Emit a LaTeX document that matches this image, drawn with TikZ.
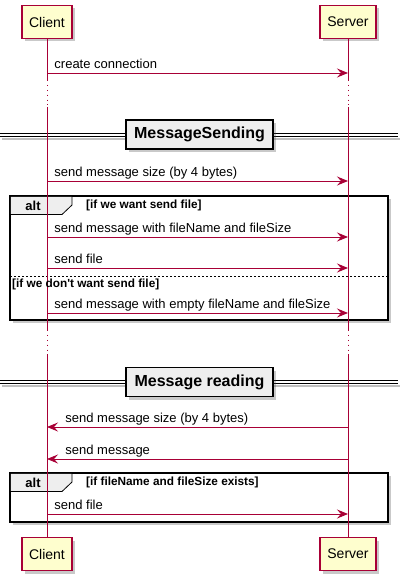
\documentclass[tikz,border=0pt]{standalone}
\usepackage{fontspec}
\setmainfont{Liberation Sans}
\usetikzlibrary{arrows.meta,shadows}

\definecolor{umlred}{HTML}{A80036}
\definecolor{umlyellow}{HTML}{FEFECE}
\definecolor{umlgray}{HTML}{EEEEEE}

\tikzset{
  shade box/.style={drop shadow={shadow xshift=3pt,shadow yshift=-3pt,opacity=.3,fill=black!70}},
  participant/.style={draw=umlred, fill=umlyellow, line width=1.2pt, minimum height=33pt,
    inner sep=0pt, font=\fontsize{14}{16}\selectfont, shade box},
  life/.style={umlred, line width=.9pt},
  delay/.style={dash pattern=on .9pt off 4pt},
  msg/.style={umlred, line width=.9pt, -{Stealth[length=11pt,width=9pt,inset=4pt]}},
  lbl/.style={text=black, inner sep=0pt, anchor=base west, font=\fontsize{13}{15}\selectfont},
  divider/.style={draw, fill=umlgray, line width=1.2pt, minimum width=147pt, minimum height=29pt,
    font=\bfseries\fontsize{16}{18}\selectfont, shade box},
  divline/.style={line width=1pt},
  fragment/.style={draw, fill=white, line width=1.5pt, shade box},
  tab/.style={line width=.8pt},
  alttag/.style={inner sep=0pt, font=\bfseries\fontsize{13}{15}\selectfont},
  guard/.style={inner sep=0pt, anchor=west, font=\bfseries\fontsize{11.8}{13}\selectfont},
}

\begin{document}
\begin{tikzpicture}[x=1pt,y=-1pt]
  \useasboundingbox (0,0) rectangle (404,583);

  % participants
  \node[participant, minimum width=50pt] (client)    at (47,22)  {Client};
  \node[participant, minimum width=56pt] (server)    at (348,22) {Server};
  \node[participant, minimum width=50pt] (clientEnd) at (47,554)  {Client};
  \node[participant, minimum width=56pt] (serverEnd) at (348,554) {Server};

  % alt fragments
  \foreach \ya/\yb in {196/320,473/522}{
    \draw[fragment] (10,\ya) rectangle (388,\yb);
    \fill[umlgray] (10.75,\ya+0.75) -- (72,\ya+0.75) -- (72,\ya+9) -- (62,\ya+18.5) -- (10.75,\ya+18.5) -- cycle;
    \draw[tab] (72,\ya) -- (72,\ya+9) -- (62,\ya+18.5) -- (10,\ya+18.5);
    \node[alttag] at (33,\ya+9.5) {alt};
  }
  \draw[tab, dash pattern=on 2pt off 2pt] (10,276) -- (388,276);

  % divider lines
  \foreach \y in {134.5,381.5}{
    \draw[black!25, line width=2pt] (2,\y+4) -- (400,\y+4);
    \draw[divline] (0,\y-1.5) -- (398,\y-1.5) (0,\y+1.5) -- (398,\y+1.5);
  }

  % lifelines
  \foreach \p/\q in {client/clientEnd,server/serverEnd}{
    \draw[life] (\p.south) -- (\p |- 0,80);
    \draw[life, delay] (\p |- 0,80) -- (\p |- 0,107);
    \draw[life] (\p |- 0,107) -- (\p |- 0,330);
    \draw[life, delay] (\p |- 0,330) -- (\p |- 0,354);
    \draw[life] (\p |- 0,354) -- (\q.north);
  }

  % dividers
  \node[divider] (sending) at (199.5,134.5) {MessageSending};
  \node[divider] (reading) at (199.5,382) {Message reading};

  % guards
  \node[guard] at (86,205) {[if we want send file]};
  \node[guard] at (12,284.5) {[if we don\textquotesingle t want send file]};
  \node[guard] at (86,482.5) {[if fileName and fileSize exists]};

  % messages client -> server
  \foreach \y/\txt in {73/create connection, 181/send message size (by 4 bytes),
      237/send message with fileName and fileSize, 268/send file,
      313/send message with empty fileName and fileSize, 514/send file}{
    \draw[msg] (client |- 0,\y) -- (server |- 0,\y)
      node[lbl, at start, xshift=7pt, yshift=4.5pt] {\txt};
  }
  % messages server -> client
  \foreach \y/\txt in {427/send message size (by 4 bytes), 459/send message}{
    \draw[msg] (server |- 0,\y) -- (client |- 0,\y)
      node[lbl, at end, xshift=18pt, yshift=4.5pt] {\txt};
  }
\end{tikzpicture}
\end{document}
